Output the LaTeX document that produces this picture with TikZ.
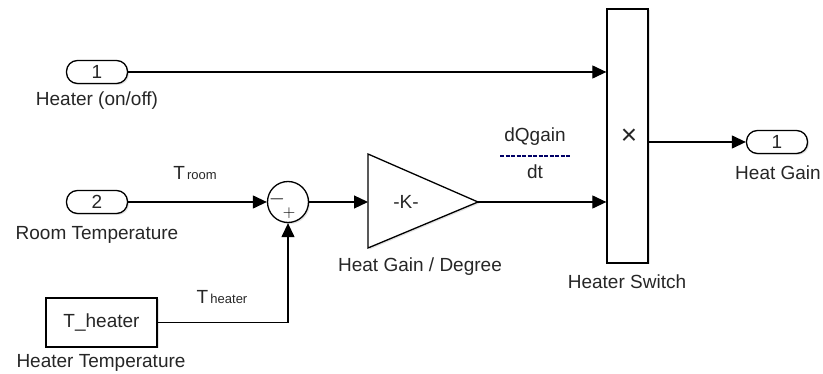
\documentclass[tikz,border=0pt]{standalone}
\usepackage{fontspec}
\setmainfont{Liberation Sans}
\usetikzlibrary{arrows.meta,shadows}

\begin{document}
\begin{tikzpicture}[x=1pt, y=-1pt,
  every node/.style={font=\fontsize{19}{22}\selectfont, text=black!85, inner sep=0pt},
  blk/.style={draw, line width=1.3pt, fill=white,
    drop shadow={shadow xshift=1.5pt, shadow yshift=-1.5pt, fill=black!22}},
  port/.style={blk, rounded corners=11pt, minimum width=61pt, minimum height=23pt},
  sig/.style={line width=1.2pt, -{Triangle[length=14pt, width=13pt]}},
  wire/.style={line width=1.2pt}]
  \useasboundingbox (0,0) rectangle (823,374);

  % blocks
  \node[port] (in1) at (97,72)  {1};
  \node[port] (in2) at (97,202) {2};
  \node[blk, minimum width=111pt, minimum height=49pt] (theater) at (101.5,322.5) {T\_heater};
  \node[blk, circle, minimum size=41pt] (sum) at (288,202) {};
  \node[font=\fontsize{20}{22}\selectfont, text=black] (minus) at (277,199) {$-$};
  \node[font=\fontsize{17}{19}\selectfont, text=black] (plus) at (289,213) {$+$};
  \coordinate (gainin)  at (368,202);
  \coordinate (gainout) at (478,202);
  \draw[blk, line join=miter] (gainin |- 0,154) -- (gainout) -- (gainin |- 0,248) -- cycle;
  \node (gaintxt) at (406,202) {-K-};
  \node[blk, minimum width=41pt, minimum height=254pt] (mux) at (627.5,136) {};
  \node[font=\fontsize{28}{30}\selectfont] (times) at (629,137) {×};
  \node[port] (out1) at (777,142) {1};

  % block names
  \node (in1lbl)  at (97,101)  {Heater (on/off)};
  \node (in2lbl)  at (97,235)  {Room Temperature};
  \node (thlbl)   at (101,363) {Heater Temperature};
  \node (gainlbl) at (420,267) {Heat Gain / Degree};
  \node (muxlbl)  at (627,282) {Heater Switch};
  \node (out1lbl) at (778,173) {Heat Gain};

  % signal names
  \node (troom)   at (195,173) {T\fontsize{13}{15}\selectfont\,room};
  \node (theat)   at (222,297) {T\fontsize{13}{15}\selectfont\,heater};
  \node (dqgain)  at (535,137) {dQgain};
  \node (dt)      at (535,172) {dt};
  \draw[line width=1.3pt, dash pattern=on 4pt off 1.5pt, black!60!blue] (500,156) -- (570,156);

  % connectors
  \draw[sig] (in1) -- (in1 -| mux.west);
  \draw[sig] (in2) -- (sum);
  \draw[sig] (sum) -- (gainin);
  \draw[sig] (gainout) -- (gainout -| mux.west);
  \draw[sig] (theater.east) -| (sum.south);
  \draw[sig] (mux.east |- out1) -- (out1);
\end{tikzpicture}
\end{document}
